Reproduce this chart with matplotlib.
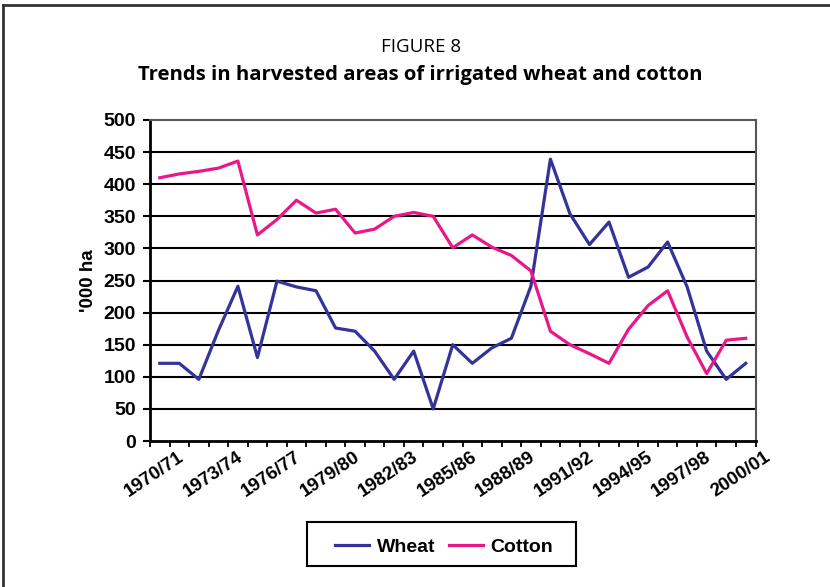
import matplotlib
matplotlib.use("Agg")
import matplotlib.pyplot as plt
from matplotlib.lines import Line2D
from matplotlib.patches import Rectangle
from matplotlib.transforms import ScaledTranslation
import numpy as np

# Harvested area, thousand hectares, 1970/71 to 2000/01
seasons = [f"{y}/{str(y + 1)[-2:]}" for y in range(1970, 2001)]
wheat = [121, 121, 96, 172, 241, 130, 249, 240, 234, 176,
         171, 140, 96, 140, 50, 150, 121, 145, 160, 241,
         439, 354, 306, 341, 255, 271, 310, 240, 140, 96, 121]
cotton = [410, 416, 420, 425, 436, 321, 345, 375, 355, 361,
          324, 330, 350, 356, 350, 301, 321, 302, 289, 265,
          171, 150, 136, 121, 174, 211, 234, 162, 105, 157, 160]
yticks = list(range(0, 501, 50))

WHEAT_C = "#333399"
COTTON_C = "#E8188A"

plt.rcParams["font.family"] = ["Liberation Sans", "DejaVu Sans"]

W, H = 830, 587
fig = plt.figure(figsize=(W / 100, H / 100), dpi=100)
ax = fig.add_axes([150 / W, 146 / H, 605.5 / W, 321 / H])

x = np.arange(len(seasons))
ax.plot(x, wheat, color=WHEAT_C, lw=2.3, label="Wheat", zorder=3)
ax.plot(x, cotton, color=COTTON_C, lw=2.3, label="Cotton", zorder=3)

ax.set_xlim(-0.5, len(seasons) - 0.5)
ax.set_ylim(0, 500)

# horizontal gridlines
for v in yticks[1:-1]:
    ax.axhline(v, color="black", lw=1.5, zorder=1)

ax.set_yticks(yticks)
ax.set_yticklabels([str(v) for v in yticks], fontsize=14, fontweight="bold")
ax.tick_params(axis="y", direction="out", length=5, width=1.5, pad=5)

# category boundary tick marks, labels every third season
ax.set_xticks(np.arange(-0.5, len(seasons)), minor=True)
ax.tick_params(axis="x", which="minor", direction="out", length=4, width=1.3)
major = x[::3]
ax.set_xticks(major)
ax.set_xticklabels([seasons[i] for i in major], fontsize=13.5, fontweight="bold",
                   rotation=34, ha="right", va="top", rotation_mode="anchor")
ax.tick_params(axis="x", which="major", length=0, pad=5.5)
shift = ScaledTranslation(18 / 100, 0, fig.dpi_scale_trans)
for lab in ax.get_xticklabels():
    lab.set_transform(lab.get_transform() + shift)

for side in ("left", "bottom"):
    ax.spines[side].set_color("black")
    ax.spines[side].set_linewidth(2)
for side in ("top", "right"):
    ax.spines[side].set_color("#555555")
    ax.spines[side].set_linewidth(1.5)

ax.set_ylabel("'000 ha", fontsize=13.5, fontweight="bold")
ax.yaxis.set_label_coords((97 - 150) / 605.5, 0.5)

fig.text(421 / W, 1 - 47 / H, "FIGURE 8", ha="center", va="center",
         fontsize=13.5, family=["Open Sans", "DejaVu Sans"])
fig.text(420 / W, 1 - 75 / H, "Trends in harvested areas of irrigated wheat and cotton",
         ha="center", va="center", fontsize=14.6, fontweight="bold",
         family=["Open Sans", "DejaVu Sans"])

# legend box and entries
fig.add_artist(Rectangle((307 / W, 1 - 566 / H), 269 / W, 44 / H,
                         transform=fig.transFigure, facecolor="white",
                         edgecolor="black", lw=1.5))
leg = fig.legend(loc="center", bbox_to_anchor=(444 / W, 1 - 547 / H), ncol=2,
                 frameon=False, prop={"weight": "bold", "size": 14},
                 handlelength=1.75, handletextpad=0.38, columnspacing=0.7)

# outer frame lines along the top and left edges
fig.add_artist(Line2D([3 / W, 3 / W], [0, 1 - 5 / H], transform=fig.transFigure,
                      color="#333333", lw=2))
fig.add_artist(Line2D([3 / W, 1], [1 - 5 / H, 1 - 5 / H], transform=fig.transFigure,
                      color="#333333", lw=2))

fig.savefig("out.png", dpi=100)
